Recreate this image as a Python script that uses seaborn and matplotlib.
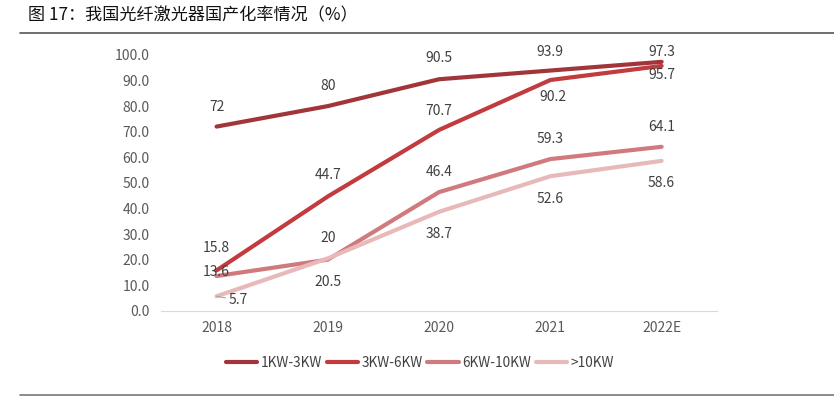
import pandas as pd
import matplotlib.pyplot as plt
import seaborn as sns


years = ["2018", "2019", "2020", "2021", "2022E"]
series_names = ["1KW-3KW", "3KW-6KW", "6KW-10KW", ">10KW"]
kw_1_3 = [72, 80, 90.5, 93.9, 97.3]
kw_3_6 = [15.8, 44.7, 70.7, 90.2, 95.7]
kw_6_10 = [13.6, 20, 46.4, 59.3, 64.1]
kw_10_plus = [5.7, 20.5, 38.7, 52.6, 58.6]

colors = ["#A2353A", "#C13B3F", "#D07A7D", "#E8B9BA"]

# label offsets in pixels (dx, dy) per series
offsets = {
    "1KW-3KW": [(0, 20), (0, 20), (0, 21), (0, 19), (0, 10)],
    "3KW-6KW": [(0, 22), (0, 21), (0, 19), (3, -17), (0, -9)],
    "6KW-10KW": [(0, 4), (0, 22), (0, 20), (0, 20), (0, 20)],
    ">10KW": [(22, -4), (0, -24), (0, -22), (0, -23), (0, -22)],
}

# Prepare data
df = pd.DataFrame({
    "year": years * 4,
    "series": [s for s in series_names for _ in years],
    "value": kw_1_3 + kw_3_6 + kw_6_10 + kw_10_plus,
})

sns.set_style("white")
plt.rcParams["font.family"] = ["Noto Sans CJK SC", "DejaVu Sans"]

fig = plt.figure(figsize=(8.34, 3.98), dpi=100)
ax = fig.add_axes([0.193, 0.219, 0.667, 0.643])

sns.lineplot(
    data=df, x="year", y="value", hue="series",
    hue_order=series_names, palette=colors,
    linewidth=3, ax=ax, legend=True,
)

# Data labels
for name, vals in zip(series_names, [kw_1_3, kw_3_6, kw_6_10, kw_10_plus]):
    for i, v in enumerate(vals):
        dx, dy = offsets[name][i]
        label = f"{v:g}"
        if name == ">10KW" and i == 0:
            ax.annotate(
                label, xy=(i, v), xytext=(dx, dy),
                textcoords="offset pixels", ha="center", va="center",
                fontsize=10, color="#404040",
                arrowprops=dict(arrowstyle="-", color="#A6A6A6", lw=0.8,
                                shrinkA=0, shrinkB=7),
            )
        else:
            ax.annotate(
                label, xy=(i, v), xytext=(dx, dy),
                textcoords="offset pixels", ha="center", va="center",
                fontsize=10, color="#404040",
            )

ax.set_xlim(-0.5, 4.5)
ax.set_ylim(0, 100)
ax.set_yticks(range(0, 101, 10))
ax.set_yticklabels([f"{t:.1f}" for t in range(0, 101, 10)])
ax.set_xlabel("")
ax.set_ylabel("")
ax.tick_params(axis="both", length=0, labelsize=10, labelcolor="#595959")
ax.tick_params(axis="y", pad=8)
ax.tick_params(axis="x", pad=7)
for side in ["top", "right", "left"]:
    ax.spines[side].set_visible(False)
ax.spines["bottom"].set_color("#D9D9D9")

leg = ax.legend(
    loc="center", bbox_to_anchor=((420 - 161) / 556, -0.203),
    ncol=4, frameon=False, fontsize=9.8, handlelength=2.3,
    handletextpad=0.3, columnspacing=0.3,
)
for t in leg.get_texts():
    t.set_color("#404040")

# Title and rules
fig.text(0.034, 0.962, "图 17：我国光纤激光器国产化率情况（%）",
         fontsize=12.3, color="#111111", va="center", ha="left")
fig.add_artist(plt.Line2D([0.024, 1.0], [0.917, 0.917],
                          color="#555555", lw=1.2))
fig.add_artist(plt.Line2D([0.024, 1.0], [0.008, 0.008],
                          color="#777777", lw=1.2))

fig.savefig("out.png", dpi=100)
